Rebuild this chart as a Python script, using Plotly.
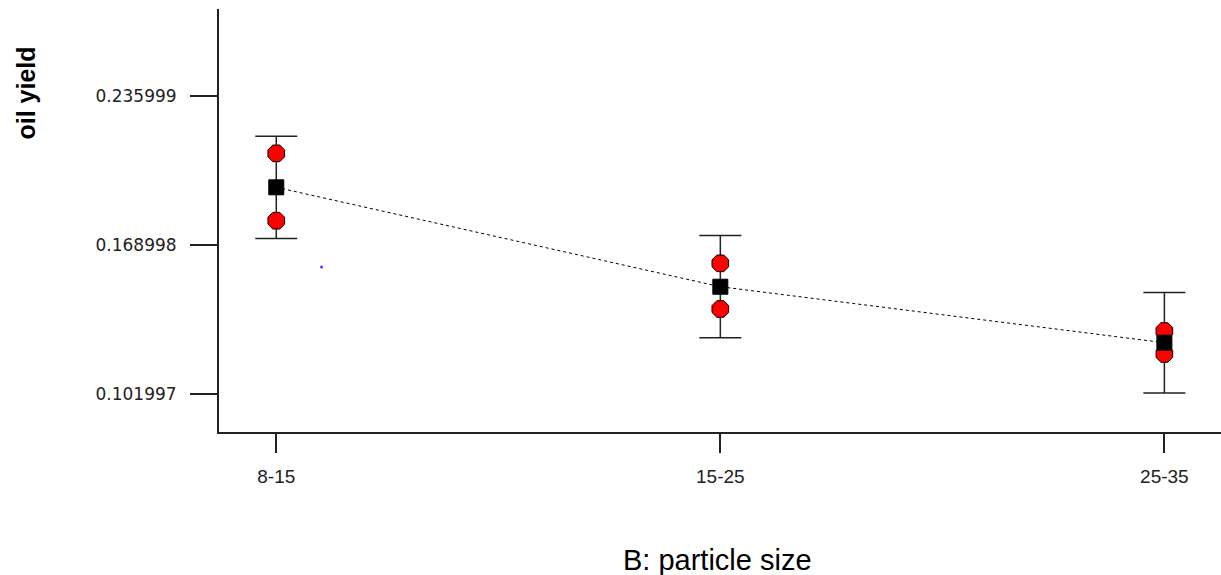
import plotly.graph_objects as go

# Factor levels of particle size
categories = ["8-15", "15-25", "25-35"]
x_pos = [0, 1, 2]

# Predicted oil yield and error bar half-widths (LSD bars)
mean_yield = [0.19494, 0.15024, 0.12506]
bar_half = [0.0230, 0.0230, 0.0226]

# Observed design points (two per level)
obs_x = [0, 0, 1, 1, 2, 2]
obs_yield = [0.2102, 0.17992, 0.16076, 0.14021, 0.13032, 0.1200]

# Stray point shown on the plot
stray_x = [0.102]
stray_y = [0.1591]

y_ticks = [0.101997, 0.168998, 0.235999]
y_tick_text = ["0.101997", "0.168998", "0.235999"]

fig = go.Figure()

# Dotted line joining the means
fig.add_trace(go.Scatter(
    x=x_pos, y=mean_yield, mode="lines",
    line=dict(color="black", width=1, dash="dot"),
    hoverinfo="skip", showlegend=False,
))

# Error bars around the means
fig.add_trace(go.Scatter(
    x=x_pos, y=mean_yield, mode="markers",
    marker=dict(size=1, color="rgba(0,0,0,0)"),
    error_y=dict(type="data", array=bar_half, symmetric=True,
                 color="#222", thickness=1.5, width=21),
    showlegend=False,
))

# Observed points
fig.add_trace(go.Scatter(
    x=obs_x, y=obs_yield, mode="markers",
    marker=dict(symbol="octagon", size=18, color="#ff0000",
                line=dict(color="black", width=1)),
    showlegend=False,
))

# Means
fig.add_trace(go.Scatter(
    x=x_pos, y=mean_yield, mode="markers",
    marker=dict(symbol="square", size=15, color="black",
                line=dict(color="black", width=1)),
    showlegend=False,
))

fig.add_trace(go.Scatter(
    x=stray_x, y=stray_y, mode="markers",
    marker=dict(size=3, color="#3344ff"),
    showlegend=False,
))

fig.update_layout(
    width=1221, height=575,
    margin=dict(l=219, r=0, t=9, b=143),
    paper_bgcolor="white", plot_bgcolor="white",
    font=dict(family="Liberation Sans, Arial, sans-serif", color="#222"),
    xaxis=dict(
        range=[-0.129, 2.1275], tickvals=x_pos, ticktext=categories,
        showgrid=False, zeroline=False,
        showline=True, linecolor="#222", linewidth=2,
        ticks="outside", ticklen=19, tickwidth=1.5, tickcolor="#222",
        tickfont=dict(family="Liberation Sans, Arial, sans-serif",
                      size=19, color="#222"),
        ticklabelstandoff=7,
    ),
    yaxis=dict(
        range=[0.08491, 0.27512], tickvals=y_ticks, ticktext=y_tick_text,
        showgrid=False, zeroline=False,
        showline=True, linecolor="#222", linewidth=2,
        ticks="outside", ticklen=27, tickwidth=1.5, tickcolor="#222",
        tickfont=dict(family="DejaVu Sans, Verdana, sans-serif",
                      size=17, color="#222"),
        ticklabelstandoff=10,
    ),
    annotations=[
        dict(text="<b>oil yield</b>", textangle=-90, x=25, y=93.5,
             xanchor="center", yanchor="middle",
             xref="paper", yref="paper", showarrow=False,
             font=dict(family="Liberation Sans, Arial, sans-serif",
                       size=25, color="black")),
        dict(text="B: particle size", x=717, y=560,
             xanchor="center", yanchor="middle",
             xref="paper", yref="paper", showarrow=False,
             font=dict(family="Liberation Sans, Arial, sans-serif",
                       size=29, color="black")),
    ],
)

# Convert pixel annotation positions into paper coordinates
pw = 1221 - 219 - 0
ph = 575 - 9 - 143
for a in fig.layout.annotations:
    a.x = (a.x - 219) / pw
    a.y = (575 - 143 - a.y) / ph

fig.write_html("out.html")
